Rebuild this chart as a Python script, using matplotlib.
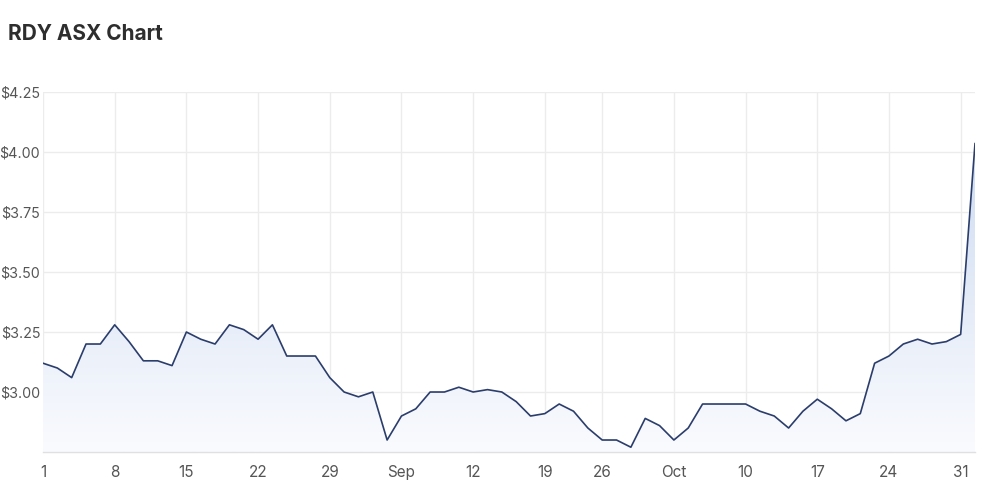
import numpy as np
import pandas as pd
import matplotlib
matplotlib.use("Agg")
import matplotlib.pyplot as plt
from matplotlib.colors import LinearSegmentedColormap

# =========================================
# DATA (RDY close, trading days 1 Aug - 1 Nov 2022)
# =========================================
trade_days = pd.bdate_range("2022-08-01", "2022-11-01").drop(pd.Timestamp("2022-09-22"))

prices = [
    3.12, 3.10, 3.06, 3.20, 3.20, 3.28, 3.21, 3.13, 3.13, 3.11,
    3.25, 3.22, 3.20, 3.28, 3.26, 3.22, 3.28, 3.15, 3.15, 3.15,
    3.06, 3.00, 2.98, 3.00, 2.80, 2.90, 2.93, 3.00, 3.00, 3.02,
    3.00, 3.01, 3.00, 2.96, 2.90, 2.91, 2.95, 2.92, 2.85, 2.80,
    2.80, 2.77, 2.89, 2.86, 2.80, 2.85, 2.95, 2.95, 2.95, 2.95,
    2.92, 2.90, 2.85, 2.92, 2.97, 2.93, 2.88, 2.91, 3.12, 3.15,
    3.20, 3.22, 3.20, 3.21, 3.24, 4.035,
]

x_tick_labels = ["1", "8", "15", "22", "29", "Sep", "12", "19", "26",
                 "Oct", "10", "17", "24", "31"]
y_ticks = [3.00, 3.25, 3.50, 3.75, 4.00, 4.25]

# =========================================
# HELPERS
# =========================================
x = np.arange(len(prices))
mondays = [i for i, d in enumerate(trade_days) if d.weekday() == 0]

plt.rcParams["font.family"] = ["Inter", "DejaVu Sans"]

line_color = "#2b3d6b"
grid_color = "#ececec"
text_color = "#555555"

fig = plt.figure(figsize=(10, 4.91), dpi=100)
ax = fig.add_axes([0.043, 0.0794, 0.932, 0.7332])

ymin, ymax = 2.75, 4.25
ax.set_xlim(x[0], x[-1])
ax.set_ylim(ymin, ymax)

# gradient fill under the line
cmap = LinearSegmentedColormap.from_list("fillgrad", ["#fafbfe", "#c6d6ef"])
grad = np.linspace(0, 1, 256).reshape(-1, 1)
img = ax.imshow(grad, extent=[x[0], x[-1], ymin, ymax], origin="lower",
                aspect="auto", cmap=cmap, zorder=1)
poly = ax.fill_between(x, prices, ymin, color="none", lw=0)
clip = poly.get_paths()[0]
img.set_clip_path(clip, transform=ax.transData)

ax.plot(x, prices, color=line_color, linewidth=1.2, zorder=3)

# axes styling
ax.set_xticks(mondays)
ax.set_xticklabels(x_tick_labels)
ax.set_yticks(y_ticks)
ax.set_yticklabels([f"${v:.2f}" for v in y_ticks])
ax.tick_params(axis="both", length=0, colors=text_color, labelsize=10.3)
ax.tick_params(axis="x", pad=9, labelsize=11)
ax.tick_params(axis="y", pad=2)

ax.grid(True, color=grid_color, linewidth=1.0)
ax.set_axisbelow(True)
for name, spine in ax.spines.items():
    spine.set_visible(False)
ax.spines["bottom"].set_visible(True)
ax.spines["bottom"].set_color("#e0e0e0")
ax.spines["bottom"].set_linewidth(1.0)

fig.text(0.008, 0.931, "RDY ASX Chart", fontsize=15, fontweight="bold",
         color="#2e2e2e", va="center", ha="left")

fig.savefig("out.png", dpi=100)
plt.close(fig)
